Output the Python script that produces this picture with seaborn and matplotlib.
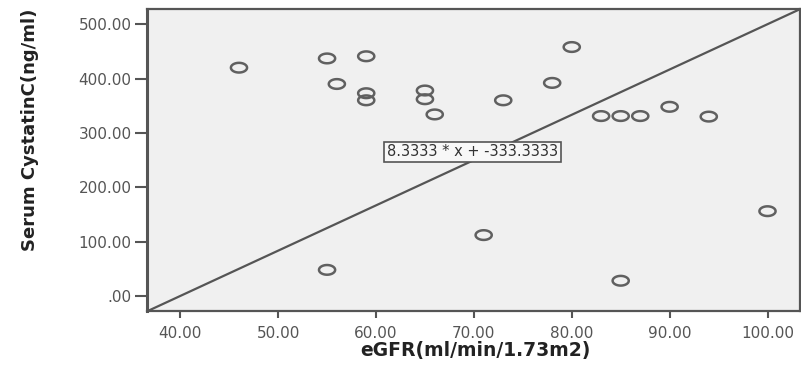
import numpy as np
import pandas as pd
import matplotlib
matplotlib.use("Agg")
import matplotlib.pyplot as plt
from matplotlib.path import Path
from matplotlib.ticker import FuncFormatter
import seaborn as sns

# Data
egfr = [46, 55, 59, 56, 59, 59, 55, 65, 65, 66, 73, 78, 80, 83, 85, 87, 90, 94, 100, 71, 85]
cystatin = [420, 437, 441, 390, 373, 360, 48, 378, 362, 334, 360, 392, 458, 331, 331, 331, 348, 330, 156, 112, 28]
slope = 8.3333
intercept = -333.3333
x_ticks = [40, 50, 60, 70, 80, 90, 100]
y_ticks = [0, 100, 200, 300, 400, 500]

df = pd.DataFrame({"eGFR": egfr, "CystatinC": cystatin})

sns.set_style("white")
plt.rcParams["font.family"] = ["DejaVu Sans"]

fig = plt.figure(figsize=(8.01, 3.68), dpi=100)
ax = fig.add_axes([0.1835, 0.155, 0.815, 0.82])
ax.set_facecolor("#f0f0f0")

# wide ellipse marker (the reference is stretched horizontally)
t = np.linspace(0, 2 * np.pi, 60)
ellipse = Path(np.column_stack([np.cos(t), 0.6 * np.sin(t)]), closed=True)

xmin, xmax = 36.6, 103.3
line_x = [xmin, xmax]
line_y = [slope * v + intercept for v in line_x]
ax.plot(line_x, line_y, color="#555555", lw=1.6, zorder=1)

sns.scatterplot(data=df, x="eGFR", y="CystatinC", ax=ax, marker=ellipse, s=135,
                facecolors="none", edgecolor="#606060", linewidth=1.8, zorder=3)

ax.text(69.9, 265, f"{slope:.4f} * x + {intercept:.4f}", ha="center", va="center",
        fontsize=10.5, color="#333333", zorder=4,
        bbox=dict(boxstyle="square,pad=0.2", fc="#f8f8f8", ec="#555555", lw=1.2))

ax.set_xlim(xmin, xmax)
ax.set_ylim(-27.6, 527.6)
ax.set_xticks(x_ticks)
ax.set_yticks(y_ticks)
fmt = FuncFormatter(lambda v, p: ".00" if v == 0 else f"{v:.2f}")
ax.xaxis.set_major_formatter(fmt)
ax.yaxis.set_major_formatter(fmt)
ax.tick_params(axis="x", direction="out", length=5, width=1.5, color="#555555",
               labelsize=11, labelcolor="#555555", pad=6, bottom=True)
ax.tick_params(axis="y", direction="out", length=9, width=1.5, color="#555555",
               labelsize=11, labelcolor="#555555", pad=2, left=True)

for side in ax.spines.values():
    side.set_color("#555555")
    side.set_linewidth(1.6)
ax.spines["left"].set_linewidth(2.2)

ax.set_xlabel("eGFR(ml/min/1.73m2)", fontsize=13.5, fontweight="bold", color="#222222")
ax.set_ylabel("Serum CystatinC(ng/ml)", fontsize=13, fontweight="bold", color="#222222")
ax.xaxis.set_label_coords(0.503, -0.1)
ax.yaxis.set_label_coords(-0.165, 0.6)

fig.savefig("out.png", dpi=100, facecolor="white")
